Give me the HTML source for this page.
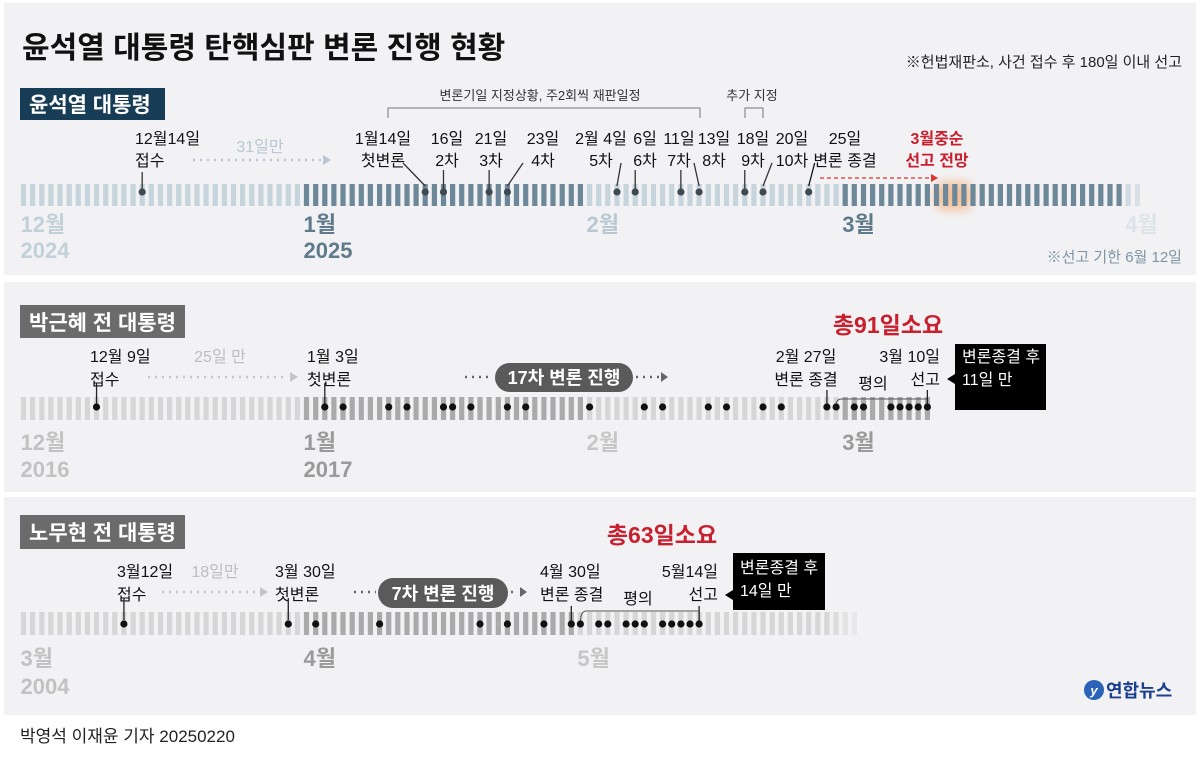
<!DOCTYPE html>
<html><head><meta charset="utf-8">
<style>
html,body{margin:0;padding:0;background:#fff;}
svg{display:block;font-family:"Liberation Sans","Noto Sans CJK KR",sans-serif;}
</style></head>
<body>
<svg id="chart" width="1200" height="766" viewBox="0 0 1200 766" xmlns="http://www.w3.org/2000/svg">
  <defs><filter id="blur" x="-50%" y="-50%" width="200%" height="200%"><feGaussianBlur stdDeviation="5"/></filter></defs>
  <rect x="4" y="3" width="1192" height="272" fill="#f2f2f4"/>
  <rect x="4" y="282" width="1192" height="210" fill="#f2f2f4"/>
  <rect x="4" y="497" width="1192" height="218" fill="#f2f2f4"/>

  <text x="22" y="58" font-size="30" font-weight="bold" fill="#111">윤석열 대통령 탄핵심판 변론 진행 현황</text>
  <text x="1182" y="67" font-size="15" fill="#222" text-anchor="end">※헌법재판소, 사건 접수 후 180일 이내 선고</text>

  <rect x="20" y="88" width="145" height="32" fill="#173c56"/>
  <text x="29" y="112" font-size="21" font-weight="bold" fill="#fff">윤석열 대통령</text>
  <text x="540" y="100" font-size="13" fill="#333" text-anchor="middle">변론기일 지정상황, 주2회씩 재판일정</text>
  <path d="M388 118 V108 H700 V118" fill="none" stroke="#777" stroke-width="1"/>
  <text x="752" y="100" font-size="13" fill="#333" text-anchor="middle">추가 지정</text>
  <path d="M745 118 V108 H763 V118" fill="none" stroke="#777" stroke-width="1"/>
  <g id="g1"></g>
  <text x="1182" y="262" font-size="15" fill="#7d95a3" text-anchor="end">※선고 기한 6월 12일</text>

  <rect x="20" y="305" width="165" height="33" fill="#6b6b6b"/>
  <text x="29" y="330" font-size="21" font-weight="bold" fill="#fff">박근혜 전 대통령</text>
  <text x="888" y="333" font-size="23" font-weight="bold" fill="#c8202f" text-anchor="middle">총91일소요</text>
  <g id="g2"></g>

  <rect x="20" y="515" width="165" height="34" fill="#6b6b6b"/>
  <text x="29" y="540" font-size="21" font-weight="bold" fill="#fff">노무현 전 대통령</text>
  <text x="662" y="543" font-size="23" font-weight="bold" fill="#c8202f" text-anchor="middle">총63일소요</text>
  <g id="g3"></g>

  <circle cx="1094" cy="690" r="10" fill="#2a63b8"/>
  <text x="1094" y="695" font-size="13" font-style="italic" font-weight="bold" fill="#fff" text-anchor="middle">y</text>
  <text x="1106" y="697" font-size="18" font-weight="bold" fill="#1b3f8f">연합뉴스</text>

  <text x="20" y="742" font-size="17" fill="#222">박영석 이재윤 기자  20250220</text>
</svg>
<script>
const yoonMonthStarts = [0, 31, 62, 90, 121];
const yoonMonthLabels = ["12월", "1월", "2월", "3월", "4월"];
const yoonYearLabels = ["2024", "2025"];
const yoonDots = [13, 44, 46, 51, 53, 65, 67, 72, 74, 79, 81, 86];
const yoonDateLines = ["12월14일", "1월14일", "16일", "21일", "23일", "2월 4일", "6일", "11일", "13일", "18일", "20일", "25일"];
const yoonEventLines = ["접수", "첫변론", "2차", "3차", "4차", "5차", "6차", "7차", "8차", "9차", "10차", "변론 종결"];

const parkMonthStarts = [0, 31, 62, 90];
const parkMonthLabels = ["12월", "1월", "2월", "3월"];
const parkYearLabels = ["2016", "2017"];
const parkDots = [8, 33, 35, 40, 42, 46, 47, 49, 53, 55, 62, 68, 70, 75, 77, 81, 83, 88, 89, 91, 92, 95, 96, 97, 98, 99];

const rohMonthStarts = [0, 31, 61];
const rohMonthLabels = ["3월", "4월", "5월"];
const rohYearLabels = ["2004"];
const rohDots = [11, 29, 32, 39, 50, 53, 57, 60, 61, 63, 64, 66, 67, 68, 70, 71, 72, 73, 74];

const NS = "http://www.w3.org/2000/svg";
const X0 = 23.5, DAY = 9.13;
function xOf(d) { return X0 + d * DAY; }
function mk(parent, tag, attrs, txt) {
  const e = document.createElementNS(NS, tag);
  for (const k in attrs) e.setAttribute(k, attrs[k]);
  if (txt !== undefined) e.textContent = txt;
  parent.appendChild(e);
  return e;
}
function bars(g, nDays, monthStarts, light, dark, fadeFrom, y, h) {
  for (let d = 0; d < nDays; d++) {
    let m = 0;
    for (let i = 0; i < monthStarts.length; i++) if (d >= monthStarts[i]) m = i;
    let c = (m % 2 === 0) ? light : dark;
    let op = 1;
    if (fadeFrom !== null && d >= fadeFrom) op = Math.max(0.15, 1 - (d - fadeFrom + 1) * 0.22);
    const r = mk(g, "rect", { x: (xOf(d) - 2.6).toFixed(1), y: y, width: 5.2, height: h, fill: c, opacity: op });
    
    
  }
}
function dots(g, arr, y, color) {
  arr.forEach(d => {
    const c = mk(g, "circle", { cx: xOf(d).toFixed(1), cy: y, r: 3.6, fill: color });
    
    
  });
}
function monthText(g, monthStarts, labels, years, colors, yM, yY) {
  labels.forEach((t, i) => {
    const e = mk(g, "text", { x: xOf(monthStarts[i]) - 3, y: yM, "font-size": 22, "font-weight": "bold", fill: colors[i] }, t);
    
    
  });
  years.forEach((t, i) => {
    const e = mk(g, "text", { x: xOf(monthStarts[i]) - 3, y: yY, "font-size": 22, "font-weight": "bold", fill: colors[i] }, t);
    
    
  });
}
function label(g, x, y, t, anchor, color, size, weight) {
  const e = mk(g, "text", { x: x, y: y, "font-size": size || 16, fill: color || "#222", "text-anchor": anchor || "middle", "font-weight": weight || "normal" }, t);
  
  
  return e;
}
function line(g, x1, y1, x2, y2, color, dash, w) {
  const e = mk(g, "line", { x1: x1, y1: y1, x2: x2, y2: y2, stroke: color || "#222", "stroke-width": w || 1.3 });
  if (dash) e.setAttribute("stroke-dasharray", dash);
  
  
}

// panel 1
const g1 = document.getElementById("g1");
const glow = mk(g1, "rect", { x: xOf(100) - 2, y: 182, width: 38, height: 28, rx: 10, fill: "#f5a060", opacity: 0.6, filter: "url(#blur)" });


bars(g1, 123, yoonMonthStarts, "#c6d4dc", "#6d8898", 121, 184, 22);
monthText(g1, yoonMonthStarts, yoonMonthLabels, yoonYearLabels, ["#c2d0d8", "#5f7b8b", "#b9c9d2", "#5f7b8b", "#dde4e8"], 232, 258);
const yoonLabelX = [135, 383, 447, 491, 543, 601, 645, 679, 714, 753, 792, 845];
yoonDots.forEach((d, i) => {
  const lx = yoonLabelX[i];
  const dx = xOf(d);
  if (i === 0) {
    label(g1, lx, 144, yoonDateLines[i], "start", "#111");
    label(g1, lx, 166, yoonEventLines[i], "start", "#111");
    line(g1, dx, 172, dx, 190, "#333");
    return;
  }
  label(g1, lx, 144, yoonDateLines[i], "middle", "#111");
  label(g1, lx, 166, yoonEventLines[i], "middle", "#111");
  const isEnd = i === yoonDots.length - 1;
  if (isEnd) {
    line(g1, dx + 6, 163, dx, 186, "#111");
  } else if (Math.abs(lx - dx) > 14) {
    const sx = lx < dx ? lx + 20 : lx - 20;
    line(g1, sx, 163, dx, 186, "#333");
  } else {
    line(g1, dx, 170, dx, 190, "#333");
  }
});
dots(g1, yoonDots, 192, "#3e4a52");
label(g1, 260, 152, "31일만", "middle", "#b8c8d2");
line(g1, 193, 160, 322, 160, "#b8c8d2", "2 5", 2.5);
mk(g1, "path", { d: "M323 155 L331 160 L323 165 Z", fill: "#b8c8d2" });
label(g1, 937, 144, "3월중순", "middle", "#c8202f", 16, "bold");
label(g1, 937, 166, "선고 전망", "middle", "#c8202f", 16, "bold");
line(g1, 820, 178, 932, 178, "#d9342f", "4 3", 1.2);
mk(g1, "path", { d: "M931 174 L938 178 L931 182 Z", fill: "#d9342f" });

// panel 2
const g2 = document.getElementById("g2");
bars(g2, 100, parkMonthStarts, "#d6d6d6", "#aaaaaa", null, 397, 23);
monthText(g2, parkMonthStarts, parkMonthLabels, parkYearLabels, ["#c2c2c2", "#9a9a9a", "#c6c6c6", "#9a9a9a"], 450, 477);
label(g2, 90, 362, "12월 9일", "start", "#111");
label(g2, 90, 385, "접수", "start", "#111");
line(g2, xOf(8), 383, xOf(8), 405);
label(g2, 220, 362, "25일 만", "middle", "#bdbdbd");
line(g2, 148, 377, 288, 377, "#c6c6c6", "2 5", 2.5);
mk(g2, "path", { d: "M290 372 L298 377 L290 382 Z", fill: "#c6c6c6" });
label(g2, 307, 362, "1월 3일", "start", "#111");
label(g2, 307, 385, "첫변론", "start", "#111");
line(g2, xOf(33), 383, xOf(33), 405);
line(g2, 465, 377, 492, 377, "#666", "2 5", 2.5);
const pill2 = mk(g2, "rect", { x: 495, y: 363, width: 138, height: 29, rx: 14.5, fill: "#5a5a5a" });


label(g2, 564, 384, "17차 변론 진행", "middle", "#fff", 18, "bold");
line(g2, 636, 377, 660, 377, "#666", "2 5", 2.5);
mk(g2, "path", { d: "M661 372 L668 377 L661 382 Z", fill: "#666" });
label(g2, 806, 362, "2월 27일", "middle", "#111");
label(g2, 806, 385, "변론 종결", "middle", "#111");
line(g2, xOf(88), 390, xOf(88), 405);
label(g2, 873, 389, "평의", "middle", "#111");
mk(g2, "path", { d: `M${xOf(89)} 405 Q${xOf(89)} 399 ${xOf(89) + 6} 399 H${xOf(99)} V405`, fill: "none", stroke: "#555", "stroke-width": 1 });
label(g2, 940, 362, "3월 10일", "end", "#111");
label(g2, 940, 385, "선고", "end", "#111");
line(g2, xOf(99), 390, xOf(99), 405);
const box2 = mk(g2, "rect", { x: 955, y: 344, width: 91, height: 66, fill: "#000" });


mk(g2, "path", { d: "M955 374 L947 379 L955 384 Z", fill: "#000" });
label(g2, 962, 362, "변론종결 후", "start", "#fff");
label(g2, 962, 385, "11일 만", "start", "#fff");
dots(g2, parkDots, 407, "#111");

// panel 3
const g3 = document.getElementById("g3");
bars(g3, 92, rohMonthStarts, "#d6d6d6", "#aaaaaa", 89, 612, 23);
monthText(g3, rohMonthStarts, rohMonthLabels, rohYearLabels, ["#c2c2c2", "#9a9a9a", "#c6c6c6"], 666, 694);
label(g3, 117, 577, "3월12일", "start", "#111");
label(g3, 117, 600, "접수", "start", "#111");
line(g3, xOf(11), 598, xOf(11), 620);
label(g3, 215, 577, "18일만", "middle", "#bdbdbd");
line(g3, 162, 592, 258, 592, "#c6c6c6", "2 5", 2.5);
mk(g3, "path", { d: "M260 587 L268 592 L260 597 Z", fill: "#c6c6c6" });
label(g3, 275, 577, "3월 30일", "start", "#111");
label(g3, 275, 600, "첫변론", "start", "#111");
line(g3, xOf(29), 598, xOf(29), 620);
line(g3, 354, 592, 376, 592, "#666", "2 5", 2.5);
const pill3 = mk(g3, "rect", { x: 378, y: 578, width: 130, height: 30, rx: 15, fill: "#5a5a5a" });


label(g3, 443, 600, "7차 변론 진행", "middle", "#fff", 18, "bold");
line(g3, 511, 592, 516, 592, "#666", "2 5", 2.5);
mk(g3, "path", { d: "M520 587 L527 592 L520 597 Z", fill: "#666" });
label(g3, 540, 577, "4월 30일", "start", "#111");
label(g3, 540, 600, "변론 종결", "start", "#111");
line(g3, xOf(60), 606, xOf(60), 622);
label(g3, 638, 604, "평의", "middle", "#111");
mk(g3, "path", { d: `M${xOf(61)} 622 Q${xOf(61)} 611 ${xOf(61) + 6} 611 H${xOf(74)} V622`, fill: "none", stroke: "#555", "stroke-width": 1 });
label(g3, 718, 577, "5월14일", "end", "#111");
label(g3, 718, 600, "선고", "end", "#111");
line(g3, xOf(74), 606, xOf(74), 622);
const box3 = mk(g3, "rect", { x: 733, y: 553, width: 92, height: 57, fill: "#000" });


mk(g3, "path", { d: "M733 590 L725 595 L733 600 Z", fill: "#000" });
label(g3, 740, 573, "변론종결 후", "start", "#fff");
label(g3, 740, 596, "14일 만", "start", "#fff");
dots(g3, rohDots, 624, "#111");
</script>
</body></html>
